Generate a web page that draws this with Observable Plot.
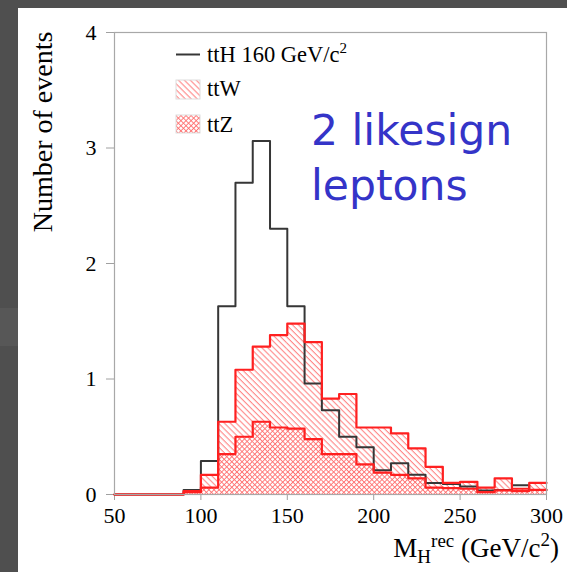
<!DOCTYPE html>
<html><head><meta charset="utf-8">
<script src="https://cdn.jsdelivr.net/npm/d3@7"></script>
<script src="https://cdn.jsdelivr.net/npm/@observablehq/plot@0.6"></script>
<style>
html,body{margin:0;padding:0;background:#4f4f4f;width:567px;height:572px;overflow:hidden;}
#patch{position:absolute;left:0;top:308px;width:18px;height:38px;background:#575757;}
#panel{position:absolute;left:18px;top:8px;width:549px;height:564px;background:#fff;}
#panel svg{position:absolute;left:0;top:0;}
g[aria-label="x-axis tick"], g[aria-label="y-axis tick"]{stroke:#a0a0a0;}
</style></head><body>
<div id="patch"></div>
<div id="panel"></div>
<script>
// ---- data ----
const binLow = [50,60,70,80,90,100,110,120,130,140,150,160,170,180,190,200,210,220,230,240,250,260,270,280,290];
const binWidth = 10;
const ttH = [0,0,0,0,0.04,0.29,1.63,2.70,3.06,2.30,1.63,0.96,0.73,0.50,0.41,0.21,0.27,0.17,0.10,0.09,0.07,0.035,0.04,0.08,0.04];
const ttZ = [0,0,0,0,0.02,0.06,0.35,0.50,0.63,0.58,0.57,0.48,0.35,0.35,0.26,0.19,0.17,0.14,0.06,0.055,0.05,0.02,0.035,0.03,0.04];
const ttW = [0,0,0,0,0.01,0.11,0.28,0.58,0.65,0.80,0.91,0.84,0.48,0.52,0.32,0.39,0.36,0.26,0.18,0.045,0.06,0.04,0.105,0.02,0.06];
const xTicks = [50,100,150,200,250,300];
const yTicks = [0,1,2,3,4];
const legendLabels = ["ttH 160 GeV/c", "ttW", "ttZ"];
const noteLines = ["2 likesign", "leptons"];

// ---- derived tables ----
const bins = binLow.map((x, i) => ({x1: x, x2: x + binWidth, ttH: ttH[i], ttZ: ttZ[i], tot: ttZ[i] + ttW[i]}));
const last = bins[bins.length - 1];
const steps = [...bins.map(b => ({x: b.x1, ttH: b.ttH, ttZ: b.ttZ, tot: b.tot})), {x: last.x2, ttH: last.ttH, ttZ: last.ttZ, tot: last.tot}];

const serif = "'Liberation Serif','Times New Roman',serif";
const red = "#ff2020";

const plot = Plot.plot({
  width: 549, height: 564,
  marginLeft: 96, marginRight: 21, marginTop: 24, marginBottom: 78,
  x: {domain: [50, 300], ticks: xTicks, tickSize: 6, tickPadding: 7, tickFormat: d => String(d), label: null},
  y: {domain: [0, 4], ticks: yTicks, tickSize: 8, tickPadding: 10, tickFormat: d => String(d), label: null},
  style: {fontFamily: serif, fontSize: "22px", color: "#000", background: "transparent", overflow: "visible"},
  marks: [
    Plot.rect(bins, {x1: "x1", x2: "x2", y1: 0, y2: "ttZ", fill: "url(#crossHatch)"}),
    Plot.rect(bins, {x1: "x1", x2: "x2", y1: "ttZ", y2: "tot", fill: "url(#diagHatch)"}),
    Plot.line(steps, {x: "x", y: "ttH", curve: "step-after", stroke: "#363636", strokeWidth: 2}),
    Plot.line(steps, {x: "x", y: "ttZ", curve: "step-after", stroke: red, strokeWidth: 2.2}),
    Plot.line(steps, {x: "x", y: "tot", curve: "step-after", stroke: red, strokeWidth: 2.2}),
    Plot.frame({stroke: "#a8a8a8", strokeWidth: 1.2})
  ]
});

const svg = d3.select(plot);
svg.insert("defs", ":first-child").html(`
  <pattern id="diagHatch" patternUnits="userSpaceOnUse" width="4.2" height="4.2" patternTransform="rotate(45)">
    <line x1="0" y1="0.6" x2="4.2" y2="0.6" stroke="#ff7a7a" stroke-width="1"/>
  </pattern>
  <pattern id="crossHatch" patternUnits="userSpaceOnUse" width="3.6" height="3.6" patternTransform="rotate(45)">
    <line x1="0" y1="0.5" x2="3.6" y2="0.5" stroke="#ff6e6e" stroke-width="0.9"/>
    <line x1="0.5" y1="0" x2="0.5" y2="3.6" stroke="#ff6e6e" stroke-width="0.9"/>
  </pattern>`);

// y label
svg.append("text").attr("transform", "translate(34,124) rotate(-90)")
  .attr("text-anchor", "middle").attr("font-family", serif).attr("font-size", 28).attr("fill", "#000")
  .text("Number of events");

// x label
const xl = svg.append("text").attr("x", 541).attr("y", 549).attr("text-anchor", "end")
  .attr("font-family", serif).attr("font-size", 27).attr("fill", "#000");
xl.append("tspan").text("M");
xl.append("tspan").attr("dy", 6).attr("font-size", 19).text("H");
xl.append("tspan").attr("dy", -16).attr("font-size", 19).text("rec");
xl.append("tspan").attr("dy", 10).text(" (GeV/c");
xl.append("tspan").attr("dy", -11).attr("font-size", 19).text("2");
xl.append("tspan").attr("dy", 11).text(")");

// legend
const lg = svg.append("g").attr("font-family", serif).attr("font-size", 22.5).attr("fill", "#000").attr("text-anchor", "start");
lg.append("line").attr("x1", 158).attr("x2", 182).attr("y1", 46.5).attr("y2", 46.5).attr("stroke", "#363636").attr("stroke-width", 2);
const t0 = lg.append("text").attr("x", 189).attr("y", 54);
t0.append("tspan").text(legendLabels[0]);
t0.append("tspan").attr("dy", -9).attr("font-size", 15).text("2");
lg.append("rect").attr("x", 158).attr("y", 72).attr("width", 24).attr("height", 19).attr("fill", "url(#diagHatch)").attr("stroke", "#ddd");
lg.append("text").attr("x", 189).attr("y", 88).text(legendLabels[1]);
lg.append("rect").attr("x", 158).attr("y", 107).attr("width", 24).attr("height", 18).attr("fill", "url(#crossHatch)").attr("stroke", "#ddd");
lg.append("text").attr("x", 189).attr("y", 123.5).text(legendLabels[2]);

// annotation
const note = svg.append("g").attr("font-family", "'DejaVu Sans',sans-serif").attr("font-size", 42.5).attr("fill", "#3434c8").attr("text-anchor", "start");
note.append("text").attr("x", 293).attr("y", 137).text(noteLines[0]);
note.append("text").attr("x", 293).attr("y", 192).text(noteLines[1]);

document.getElementById("panel").appendChild(plot);
</script>
</body></html>
